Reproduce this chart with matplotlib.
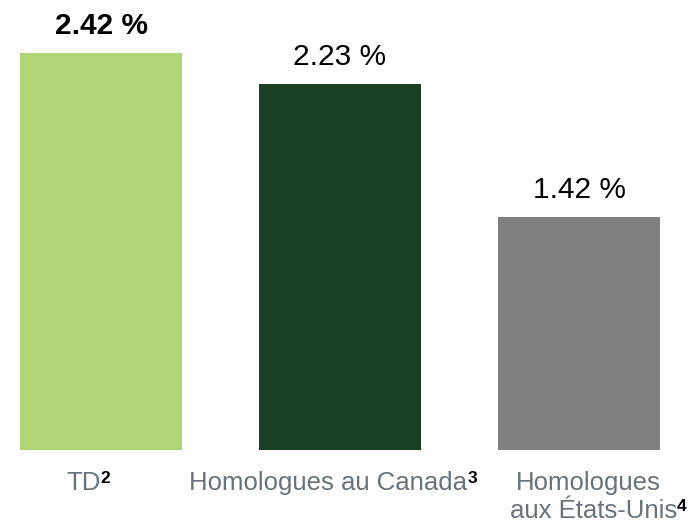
import matplotlib
matplotlib.use("Agg")
import matplotlib.pyplot as plt

# Données
categories = ["TD", "Homologues au Canada", "Homologues\naux États-Unis"]
notes = ["2", "3", "4"]
values = [2.42, 2.23, 1.42]
value_labels = ["2.42 %", "2.23 %", "1.42 %"]
colors = ["#AED677", "#193F25", "#7F7F80"]

plt.rcParams["font.family"] = ["Liberation Sans", "DejaVu Sans"]

fig = plt.figure(figsize=(6.99, 5.23), dpi=100)
ax = fig.add_axes([0, 73 / 523, 1, 450 / 523])

x = list(range(len(values)))
bars = ax.bar(x, values, width=0.678, color=colors)
ax.set_xlim(-0.4226, 2.502)
ax.set_ylim(0, 2.743)
ax.axis("off")

# etiquettes de valeur au-dessus des barres
for i, (b, lab) in enumerate(zip(bars, value_labels)):
    ax.annotate(lab, xy=(b.get_x() + b.get_width() / 2, b.get_height()),
                xytext=(0, 13.7), textcoords="offset points",
                ha="center", va="baseline", fontsize=21.5,
                fontweight="bold" if i == 0 else "normal", color="black")

# etiquettes des categories (decalage en points par rapport au centre)
label_dx = [[-12.6], [-8.3], [6.8, 10.5]]
label_dy = [-28.8, -49.0]
grey = "#67737C"
for i, cat in enumerate(categories):
    lines = cat.split("\n")
    last = None
    for k, line in enumerate(lines):
        last = ax.annotate(line, xy=(i, 0), xytext=(label_dx[i][k], label_dy[k]),
                           textcoords="offset points", ha="center", va="baseline",
                           fontsize=18.5, color=grey, annotation_clip=False)
    ax.annotate(notes[i], xy=(1, 1), xycoords=last, xytext=(0, 0),
                textcoords="offset points", ha="left", va="top",
                fontsize=12.5, fontweight="bold", color="black")

fig.savefig("out.png", dpi=100)
